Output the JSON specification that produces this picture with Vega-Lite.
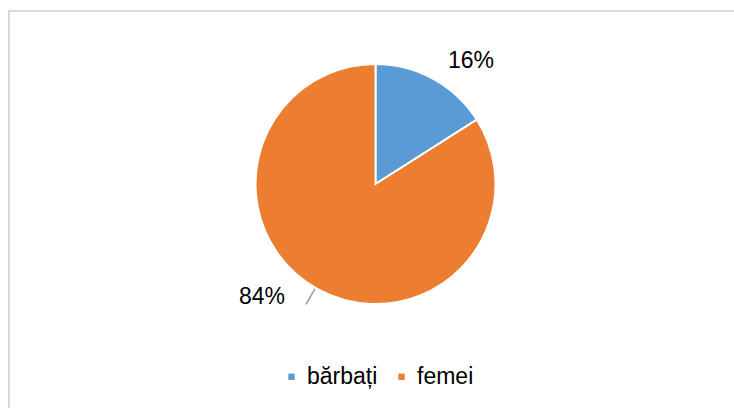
{
  "$schema": "https://vega.github.io/schema/vega-lite/v6.json",
  "autosize": {"type": "none"},
  "padding": {"left": 9, "top": 11, "right": 0, "bottom": 0},
  "width": 733,
  "height": 420,
  "background": "white",
  "view": {"stroke": "#d9d9d9", "strokeWidth": 2},
  "config": {
    "view": {"stroke": "#d9d9d9", "strokeWidth": 2},
    "font": "Liberation Sans"
  },
  "data": {"values": [
    {"gen": "bărbați", "pct": 16, "label": "16%"},
    {"gen": "femei", "pct": 84, "label": "84%"}
  ]},
  "layer": [
    {
      "transform": [{"filter": "datum.gen === 'femei'"}],
      "mark": {"type": "arc", "theta": 3.658, "theta2": 3.672, "radius": 139, "radius2": 116, "color": "#a6a6a6", "yOffset": -37},
      "encoding": {}
    },
    {
      "mark": {"type": "arc", "outerRadius": 120, "stroke": "white", "strokeWidth": 2, "yOffset": -37},
      "encoding": {
        "theta": {"field": "pct", "type": "quantitative", "stack": true},
        "color": {
          "field": "gen", "type": "nominal",
          "scale": {"domain": ["bărbați", "femei"], "range": ["#5B9BD5", "#ED7D31"]},
          "legend": {
            "title": null, "orient": "none", "direction": "horizontal",
            "legendX": 271, "legendY": 354, "padding": 0,
            "symbolType": "square", "symbolSize": 40, "symbolStrokeWidth": 0,
            "labelFontSize": 23, "labelFont": "Liberation Sans", "labelColor": "#000000",
            "labelOffset": 4, "columnPadding": 12
          }
        }
      }
    },
    {
      "mark": {"type": "text", "radius": 140, "yOffset": -37, "dx": 28, "dy": 0, "fontSize": 23, "font": "Liberation Sans"},
      "encoding": {
        "theta": {"field": "pct", "type": "quantitative", "stack": true},
        "text": {"condition": {"test": "datum.gen === 'bărbați'", "field": "label"}, "value": ""},
        "color": {"value": "#000000"}
      }
    },
    {
      "mark": {"type": "text", "radius": 140, "yOffset": -37, "dx": -46, "dy": -10, "fontSize": 23, "font": "Liberation Sans"},
      "encoding": {
        "theta": {"field": "pct", "type": "quantitative", "stack": true},
        "text": {"condition": {"test": "datum.gen === 'femei'", "field": "label"}, "value": ""},
        "color": {"value": "#000000"}
      }
    }
  ]
}
